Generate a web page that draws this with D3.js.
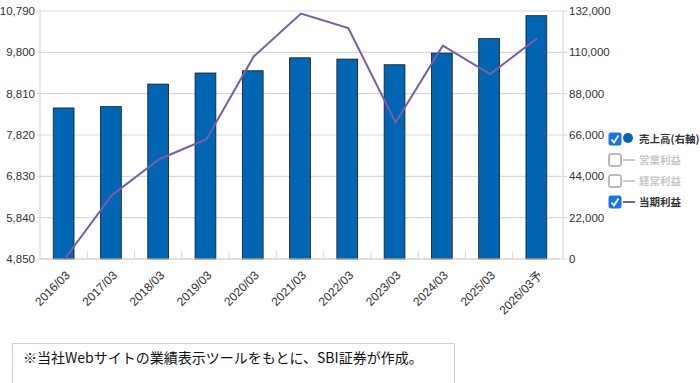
<!DOCTYPE html>
<html>
<head>
<meta charset="utf-8">
<title>業績推移</title>
<script src="https://cdnjs.cloudflare.com/ajax/libs/d3/7.8.5/d3.min.js"></script>
<style>
body { margin: 0; background: #fff; }
svg text { font-family: "Liberation Sans", "Noto Sans CJK JP", sans-serif; }
.jp { font-family: "Noto Sans CJK JP", sans-serif; }
</style>
</head>
<body>
<script>
// 決算期
var periods = ["2016/03", "2017/03", "2018/03", "2019/03", "2020/03", "2021/03",
               "2022/03", "2023/03", "2024/03", "2025/03", "2026/03予"];
// 売上高 (右軸)
var sales = [80400, 81100, 93100, 99000, 100200, 107100, 106400, 103400, 109600, 117300, 129500];
// 当期利益 (左軸)
var profit = [4850, 6380, 7240, 7720, 9700, 10730, 10380, 8120, 9960, 9280, 10140];
var leftTicks = [4850, 5840, 6830, 7820, 8810, 9800, 10790];
var rightTicks = [0, 22000, 44000, 66000, 88000, 110000, 132000];
var legendItems = [
  {name: "売上高(右軸)", on: true, type: "dot"},
  {name: "営業利益", on: false, type: "line"},
  {name: "経常利益", on: false, type: "line"},
  {name: "当期利益", on: true, type: "line"}
];
var note = "※当社Webサイトの業績表示ツールをもとに、SBI証券が作成。";

var W = 700, H = 383;
var m = {left: 40, right: 563, top: 11, bottom: 259};

var svg = d3.select("body").append("svg").attr("width", W).attr("height", H);

var x = d3.scaleBand().domain(periods).range([m.left, 560]).paddingInner(0.56).paddingOuter(0.28);
var xs = d3.scaleBand().domain(periods).range([m.left, 560]);
var yL = d3.scaleLinear().domain([4850, 10790]).range([m.bottom, m.top]);
var yR = d3.scaleLinear().domain([0, 132000]).range([m.bottom, m.top]);

// grid
svg.append("g").selectAll("line").data(leftTicks).enter().append("line")
  .attr("x1", 37).attr("x2", 567)
  .attr("y1", function(d){ return yL(d); }).attr("y2", function(d){ return yL(d); })
  .attr("stroke", "#d9d9d9").attr("stroke-width", 1.2);

// axis lines
svg.append("line").attr("x1", m.left).attr("x2", m.left).attr("y1", m.top).attr("y2", m.bottom)
  .attr("stroke", "#d9d9d9").attr("stroke-width", 1.2);
svg.append("line").attr("x1", m.right).attr("x2", m.right).attr("y1", m.top).attr("y2", m.bottom)
  .attr("stroke", "#d9d9d9").attr("stroke-width", 1.2);

// small ticks between categories
svg.append("g").selectAll("line").data(periods.slice(1)).enter().append("line")
  .attr("x1", function(d){ return xs(d); }).attr("x2", function(d){ return xs(d); })
  .attr("y1", m.bottom - 8).attr("y2", m.bottom)
  .attr("stroke", "#d9d9d9").attr("stroke-width", 1);

// left labels
svg.append("g").selectAll("text").data(leftTicks).enter().append("text")
  .attr("x", 35).attr("y", function(d){ return yL(d); }).attr("dy", "0.35em")
  .attr("text-anchor", "end").attr("font-size", 11.5).attr("fill", "#333")
  .text(d3.format(","));

// right labels
svg.append("g").selectAll("text").data(rightTicks).enter().append("text")
  .attr("x", 569).attr("y", function(d){ return yR(d); }).attr("dy", "0.35em")
  .attr("text-anchor", "start").attr("font-size", 11.5).attr("fill", "#333")
  .text(d3.format(","));

// bars
svg.append("g").selectAll("rect").data(sales).enter().append("rect")
  .attr("x", function(d, i){ return x(periods[i]); })
  .attr("width", x.bandwidth())
  .attr("y", function(d){ return yR(d); })
  .attr("height", function(d){ return m.bottom - yR(d); })
  .attr("fill", "#0066b3").attr("stroke", "#1a1a1a").attr("stroke-width", 0.8);

// baseline
svg.append("line").attr("x1", m.left).attr("x2", 560).attr("y1", m.bottom).attr("y2", m.bottom)
  .attr("stroke", "#d0d0d0").attr("stroke-width", 1.2);

// profit line
var line = d3.line()
  .x(function(d, i){ return xs(periods[i]) + xs.bandwidth() / 2 + 1; })
  .y(function(d){ return yL(d); });
svg.append("path").datum(profit).attr("d", line)
  .attr("fill", "none").attr("stroke", "#7a5ca8").attr("stroke-width", 2);

// x labels
svg.append("g").selectAll("text").data(periods).enter().append("text")
  .attr("transform", function(d){
    return "translate(" + (xs(d) + xs.bandwidth() / 2 + 4) + "," + (m.bottom + 14) + ") rotate(-45)";
  })
  .attr("text-anchor", "end").attr("dy", "0.35em")
  .attr("font-size", 12).attr("fill", "#333")
  .text(function(d){ return d; });

// legend
var lg = svg.append("g").attr("transform", "translate(609,139)");
var row = lg.selectAll("g").data(legendItems).enter().append("g")
  .attr("transform", function(d, i){ return "translate(0," + (i * 21) + ")"; });
row.append("rect").attr("x", 0).attr("y", -6).attr("width", 12).attr("height", 12).attr("rx", 1.5)
  .attr("fill", function(d){ return d.on ? "#1a73e8" : "#fff"; })
  .attr("stroke", function(d){ return d.on ? "#1a73e8" : "#777"; }).attr("stroke-width", 1);
row.filter(function(d){ return d.on; }).append("path")
  .attr("d", "M2.5,0.5 L5,3.5 L9.5,-3.5")
  .attr("fill", "none").attr("stroke", "#fff").attr("stroke-width", 1.8);
row.filter(function(d){ return d.type == "dot"; }).append("circle")
  .attr("cx", 19).attr("cy", -1).attr("r", 5).attr("fill", "#0066b3");
row.filter(function(d){ return d.type == "line"; }).append("line")
  .attr("x1", 14).attr("x2", 26).attr("y1", 0).attr("y2", 0)
  .attr("stroke", function(d){ return d.on ? "#7a5ca8" : "#ccc"; }).attr("stroke-width", 2);
row.append("text").attr("class", "jp").attr("x", 30).attr("y", 0).attr("dy", "0.35em")
  .attr("font-size", 10.5).attr("font-weight", "bold")
  .attr("fill", function(d){ return d.on ? "#333" : "#c8c8c8"; })
  .text(function(d){ return d.name; });

// note box
svg.append("rect").attr("x", 12.5).attr("y", 343.5).attr("width", 442).attr("height", 50)
  .attr("fill", "#fff").attr("stroke", "#d0d0d0");
svg.append("text").attr("class", "jp").attr("x", 23).attr("y", 358).attr("dy", "0.35em")
  .attr("font-size", 14).attr("fill", "#111").text(note);
</script>
</body>
</html>
